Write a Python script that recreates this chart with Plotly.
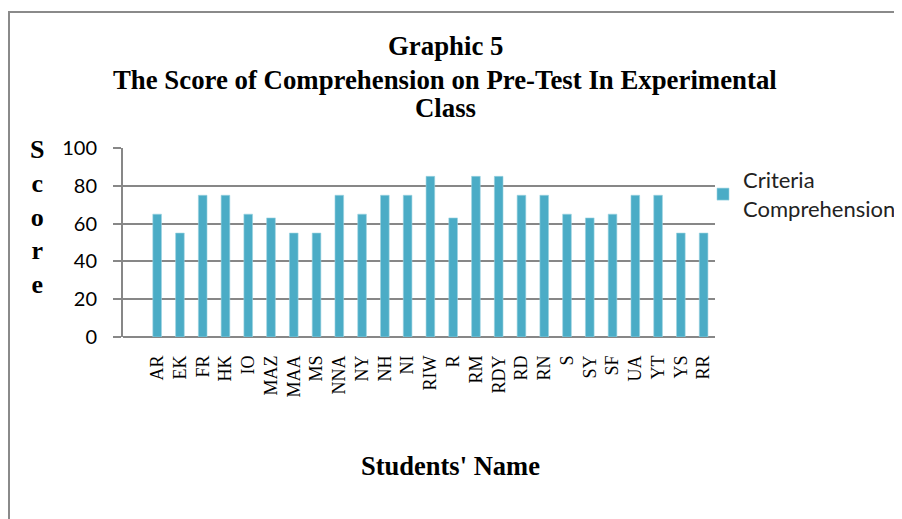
import plotly.graph_objects as go

# Data
students = ['AR', 'EK', 'FR', 'HK', 'IO', 'MAZ', 'MAA', 'MS', 'NNA', 'NY', 'NH', 'NI', 'RIW',
            'R', 'RM', 'RDY', 'RD', 'RN', 'S', 'SY', 'SF', 'UA', 'YT', 'YS', 'RR']
scores = [65, 55, 75, 75, 65, 63, 55, 55, 75, 65, 75, 75, 85,
          63, 85, 85, 75, 75, 65, 63, 65, 75, 75, 55, 55]
y_ticks = [0, 20, 40, 60, 80, 100]

# page has an 8px body margin, so work in screen pixels and shift
OFF = 8
W, H = 902 - OFF, 519 - OFF
PLOT_L, PLOT_R, PLOT_T, PLOT_B = 123, 715, 148, 337   # screen px of the plot area
L, T = PLOT_L - OFF, PLOT_T - OFF
R, B = W - (PLOT_R - OFF), H - (PLOT_B - OFF)
pw, ph = PLOT_R - PLOT_L, PLOT_B - PLOT_T


def px_x(p):
    return (p - PLOT_L) / pw


def px_y(p):
    return (PLOT_B - p) / ph


def cont_x(p):
    return (p - OFF) / W


def cont_y(p):
    return 1 - (p - OFF) / H


bar_color = '#4BACC6'
grid_color = '#878787'
serif = 'Liberation Serif, Times New Roman, serif'
sans = 'Lato, Carlito, Liberation Sans, sans-serif'

fig = go.Figure()

fig.add_trace(go.Bar(
    x=students,
    y=scores,
    name='Criteria<br>Comprehension',
    marker=dict(color=bar_color, line=dict(color='#9CD3E0', width=0.6)),
    width=0.38,
))

fig.update_layout(
    width=W,
    height=H,
    margin=dict(l=L, r=R, t=T, b=B, autoexpand=False),
    paper_bgcolor='white',
    plot_bgcolor='white',
    showlegend=True,
    legend=dict(
        x=cont_x(703), y=cont_y(159), xref='container', yref='container',
        xanchor='left', yanchor='top',
        font=dict(family=sans, size=22, color='#222'),
        bgcolor='rgba(0,0,0,0)',
        itemwidth=30,
    ),
    xaxis=dict(
        type='category',
        range=[-1.5, len(students) - 0.5],
        tickangle=-90,
        tickfont=dict(family=serif, size=18, color='black'),
        showgrid=False,
        showline=False,
        ticks='',
        ticklabelstandoff=14,
    ),
    yaxis=dict(
        range=[0, 100],
        tickvals=y_ticks,
        tickfont=dict(family=sans, size=20, color='black'),
        showgrid=True,
        gridcolor=grid_color,
        gridwidth=2,
        zeroline=True,
        zerolinecolor=grid_color,
        zerolinewidth=2,
        showline=True,
        linecolor=grid_color,
        linewidth=2,
        ticks='outside',
        ticklen=8,
        tickcolor=grid_color,
        tickwidth=2,
        ticklabelstandoff=12,
    ),
)

# title lines
title_lines = ['Graphic 5', 'The Score of Comprehension on Pre-Test In Experimental', 'Class']
title_y = [46, 80, 108]
for line, yy in zip(title_lines, title_y):
    fig.add_annotation(
        text=f'<b>{line}</b>',
        x=px_x(445), y=px_y(yy), xref='paper', yref='paper',
        xanchor='center', yanchor='middle', showarrow=False,
        font=dict(family=serif, size=26.8, color='black'),
    )

# y-axis title as stacked letters
fig.add_annotation(
    text='<b>S<br>c<br>o<br>r<br>e</b>',
    x=px_x(37), y=px_y(133), xref='paper', yref='paper',
    xanchor='center', yanchor='top', showarrow=False, align='center',
    font=dict(family=serif, size=26, color='black'),
)

# x-axis title
fig.add_annotation(
    text="<b>Students' Name</b>",
    x=px_x(450), y=px_y(466), xref='paper', yref='paper',
    xanchor='center', yanchor='middle', showarrow=False,
    font=dict(family=serif, size=26.5, color='black'),
)

# outer chart border (left and top edges visible)
fig.add_shape(
    type='rect', xref='paper', yref='paper',
    x0=px_x(OFF + 1), y0=px_y(560), x1=px_x(940), y1=px_y(12),
    line=dict(color='#8A8A8A', width=2), layer='below',
)

fig.write_html('out.html')
